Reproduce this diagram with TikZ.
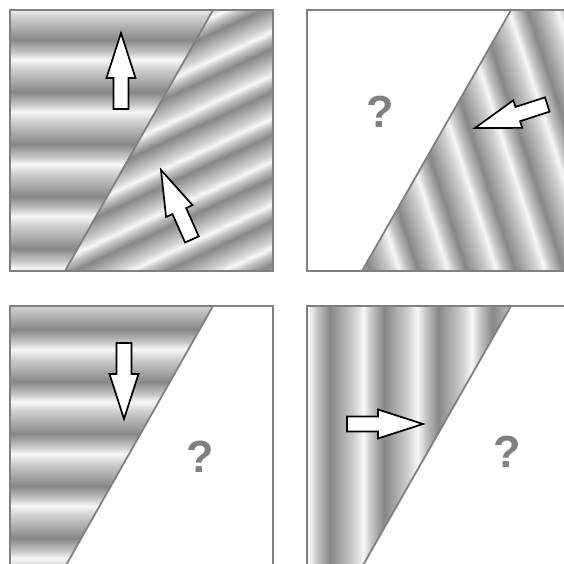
\documentclass[tikz,border=0pt]{standalone}
\usepackage{fontspec}
\setmainfont{Liberation Sans}

% grating profile: dark -> slow rise -> bright -> quick fall, 16 periods
\newcommand\makegrating[2]{% #1 name, #2 period (bp)
  \gdef\gratingspec{rgb(0bp)=(.53,.53,.53)}%
  \foreach \k in {0,...,15}{%
    \pgfmathsetmacro\pa{#2*(\k+.45)}%
    \pgfmathsetmacro\pb{#2*(\k+.62)}%
    \pgfmathsetmacro\pc{#2*(\k+.76)}%
    \pgfmathsetmacro\pd{#2*(\k+1)}%
    \xdef\gratingspec{\gratingspec; rgb(\pa bp)=(.82,.82,.82);
      rgb(\pb bp)=(.97,.97,.97); rgb(\pc bp)=(.78,.78,.78); rgb(\pd bp)=(.53,.53,.53)}%
  }%
  \pgfmathsetmacro\gratingsize{16*#2}%
  \edef\mkgrating{\noexpand\pgfdeclarehorizontalshading{#1}{\gratingsize bp}{\gratingspec}}%
  \mkgrating
}
\makegrating{hgrating}{52}
\makegrating{vgrating}{54}
\makegrating{lowgrating}{39}
\makegrating{steepgrating}{46}

\definecolor{framegray}{gray}{0.5}

\tikzset{
  patch/.style={inner sep=0pt, outer sep=0pt},
  frame/.style={draw=framegray, line width=2pt},
  cut/.style={draw=framegray, line width=1.8pt},
  arrowline/.style={draw=black, fill=white, line width=1.7pt, line join=miter},
  qmark/.style={text=framegray, font=\fontsize{45}{45}\selectfont\bfseries},
  flowarrow/.pic={
    \draw[arrowline] (0,0) -- (-45,14.5) -- (-45,7.5) -- (-76,7.5)
      -- (-76,-7.5) -- (-45,-7.5) -- (-45,-14.5) -- cycle;
  }
}

\begin{document}
\begin{tikzpicture}[x=1pt, y=1pt]
  \useasboundingbox (0,0) rectangle (563,564);

  % top left: horizontal grating | tilted grating
  \begin{scope}
    \clip (10,554) -- (213,554) -- (65,293) -- (10,293) -- cycle;
    \node[patch, rotate=90] (tlL) at (141,472) {\pgfuseshading{hgrating}};
  \end{scope}
  \begin{scope}
    \clip (213,554) -- (273,554) -- (273,293) -- (65,293) -- cycle;
    \node[patch, rotate=-65] (tlR) at (304,401) {\pgfuseshading{lowgrating}};
  \end{scope}

  % top right: unknown | steep grating
  \begin{scope}
    \clip (511,554) -- (570,554) -- (570,293) -- (362,293) -- cycle;
    \node[patch, rotate=18] (trR) at (549,338) {\pgfuseshading{steepgrating}};
  \end{scope}

  % bottom left: horizontal grating | unknown
  \begin{scope}
    \clip (10,258) -- (213,258) -- (65,-3) -- (10,-3) -- cycle;
    \node[patch, rotate=90] (blL) at (141,130) {\pgfuseshading{hgrating}};
  \end{scope}

  % bottom right: vertical grating | unknown
  \begin{scope}
    \clip (307,258) -- (511,258) -- (362,-3) -- (307,-3) -- cycle;
    \node[patch] (brL) at (384,130) {\pgfuseshading{vgrating}};
  \end{scope}

  % frames and edges
  \draw[frame] (10,293) rectangle (273,554);
  \draw[frame] (307,293) rectangle (570,554);
  \draw[frame] (10,-3) rectangle (273,258);
  \draw[frame] (307,-3) rectangle (570,258);
  \draw[cut] (213,554) -- (65,293);
  \draw[cut] (511,554) -- (362,293);
  \draw[cut] (213,258) -- (65,-3);
  \draw[cut] (511,258) -- (362,-3);

  % motion directions
  \pic[rotate=90] at (121,531) {flowarrow};
  \pic[rotate=114] at (161,394) {flowarrow};
  \pic[rotate=198] at (475,436) {flowarrow};
  \pic[rotate=-90] at (124,145) {flowarrow};
  \pic at (423,140) {flowarrow};

  \node[qmark] (qTR) at (380,452) {?};
  \node[qmark] (qBL) at (200,107) {?};
  \node[qmark] (qBR) at (507,112) {?};
\end{tikzpicture}
\end{document}
